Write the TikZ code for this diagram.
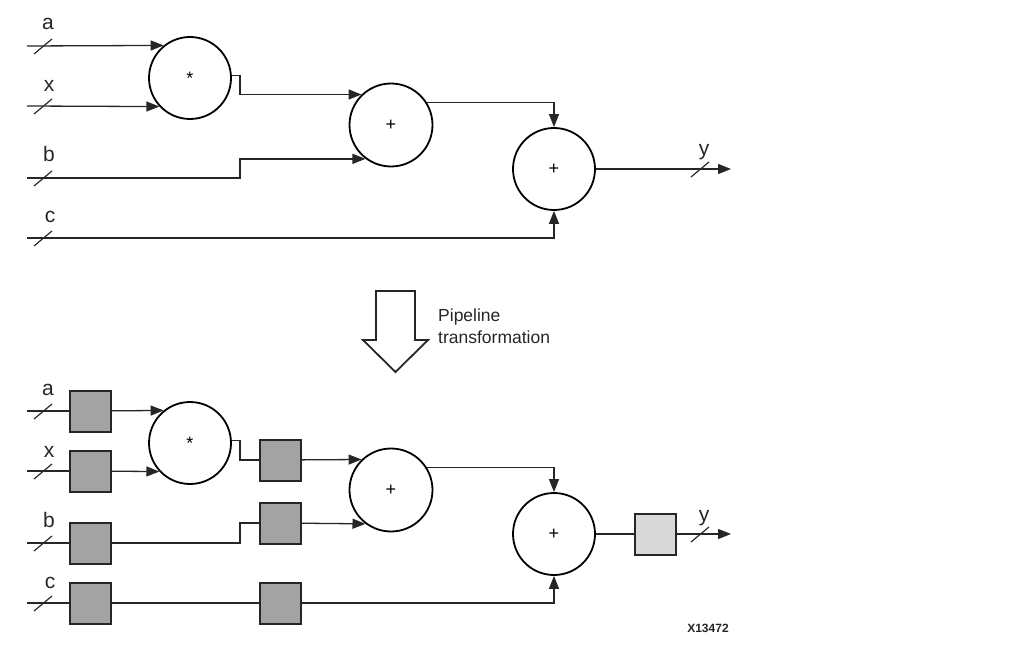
\documentclass[tikz,border=0pt]{standalone}
\usepackage{fontspec}
\setmainfont{Liberation Sans}
\usetikzlibrary{arrows.meta}
\definecolor{regdark}{HTML}{A3A3A3}
\definecolor{reglight}{HTML}{D9D9D9}
\definecolor{wirecol}{HTML}{262626}
\definecolor{labcol}{HTML}{262626}
\tikzset{
  op/.style={circle,draw=black,line width=1.8pt,minimum size=82pt,inner sep=0pt,
    font=\fontsize{18}{20}\selectfont},
  reg/.style={rectangle,draw=black!85,line width=2pt,fill=regdark,minimum size=41pt,inner sep=0pt},
  regl/.style={reg,fill=reglight},
  wire/.style={line width=1.3pt,draw=wirecol},
  arr/.style={wire,-{Triangle[length=13pt,width=10pt]}},
  sig/.style={font=\fontsize{21}{24}\selectfont,anchor=base,text=labcol,inner sep=0pt},
  captext/.style={font=\fontsize{17.5}{20}\selectfont,anchor=base west,text=labcol,inner sep=0pt},
  slash/.pic={\draw[line width=1.2pt,draw=wirecol] (-9,8) -- (9,-7);}
}
\begin{document}
\begin{tikzpicture}[x=1pt,y=-1pt]
\useasboundingbox (0,0) rectangle (1026,655);
\coordinate (mx) at (240,0);
% ---------------- top diagram ----------------
\node[op] (m)  at (190,78)  {*};
\node[op,minimum size=83pt] (p1) at (391,125) {+};
\node[op] (p2) at (554,169) {+};
\coordinate (ia) at (27,46);
\coordinate (ix) at (27,106);
\coordinate (ib) at (27,178);
\coordinate (ic) at (27,238);
\coordinate (oy) at (731,169);
\draw[arr] (ia) -- (m.129);
\draw[arr] (ix) -- (m.223);
\draw[arr] (m.3) -- (m.3 -| mx) |- (p1.134);
\draw[arr] (ib) -- (ib -| mx) |- (p1.233);
\draw[arr] (p1.32) -| (p2.north);
\draw[arr] (ic) -| (p2.south);
\draw[arr] (p2.east) -- (oy);
\pic at (43,46) {slash};
\pic at (43,106) {slash};
\pic at (43,178) {slash};
\pic at (43,238) {slash};
\pic at (700,169) {slash};
\node[sig] (la) at (48,30) {a};
\node[sig] (lx) at (49,92) {x};
\node[sig] (lb) at (49,162) {b};
\node[sig] (lc) at (50,223) {c};
\node[sig] (ly) at (704,156) {y};
% ---------------- transformation arrow ----------------
\draw[line width=1.8pt,draw=black!85,fill=white]
  (376,291) -- (415,291) -- (415,340) -- (428,340) -- (395.5,372) -- (363,340) -- (376,340) -- cycle;
\node[captext] (cap1) at (438,321) {Pipeline};
\node[captext] (cap2) at (438,343) {transformation};
% ---------------- bottom diagram ----------------
\node[op] (m2) at (190,443) {*};
\node[op,minimum size=83pt] (p3) at (391,490) {+};
\node[op] (p4) at (554,534) {+};
\node[reg] (ra)  at (90,411) {};
\node[reg] (rx)  at (90,471) {};
\node[reg] (rb)  at (90,543) {};
\node[reg] (rc)  at (90,603) {};
\node[reg] (rm)  at (280,460) {};
\node[reg] (rb2) at (280,523) {};
\node[reg] (rc2) at (280,603) {};
\node[regl] (ry) at (655,534) {};
\coordinate (ia2) at (27,411);
\coordinate (ix2) at (27,471);
\coordinate (ib2) at (27,543);
\coordinate (ic2) at (27,603);
\coordinate (oy2) at (731,534);
\draw[wire] (ia2) -- (ra);
\draw[arr] (ra) -- (m2.129);
\draw[wire] (ix2) -- (rx);
\draw[arr] (rx) -- (m2.223);
\draw[wire] (m2.3) -- (m2.3 -| mx) |- (rm);
\draw[arr] (rm) -- (p3.134);
\draw[wire] (ib2) -- (rb);
\draw[wire] (rb) -- (rb -| mx) |- (rb2);
\draw[arr] (rb2) -- (p3.233);
\draw[wire] (ic2) -- (rc);
\draw[wire] (rc) -- (rc2);
\draw[arr] (rc2) -| (p4.south);
\draw[arr] (p3.32) -| (p4.north);
\draw[wire] (p4) -- (ry);
\draw[arr] (ry) -- (oy2);
\pic at (43,411) {slash};
\pic at (43,471) {slash};
\pic at (43,543) {slash};
\pic at (43,603) {slash};
\pic at (700,534) {slash};
\node[sig] (la2) at (48,395) {a};
\node[sig] (lx2) at (49,457) {x};
\node[sig] (lb2) at (49,527) {b};
\node[sig] (lc2) at (50,588) {c};
\node[sig] (ly2) at (704,521) {y};
\node[font=\fontsize{12}{13}\selectfont\bfseries,text=labcol,inner sep=0pt] (fig) at (708,628) {X13472};
\end{tikzpicture}
\end{document}
